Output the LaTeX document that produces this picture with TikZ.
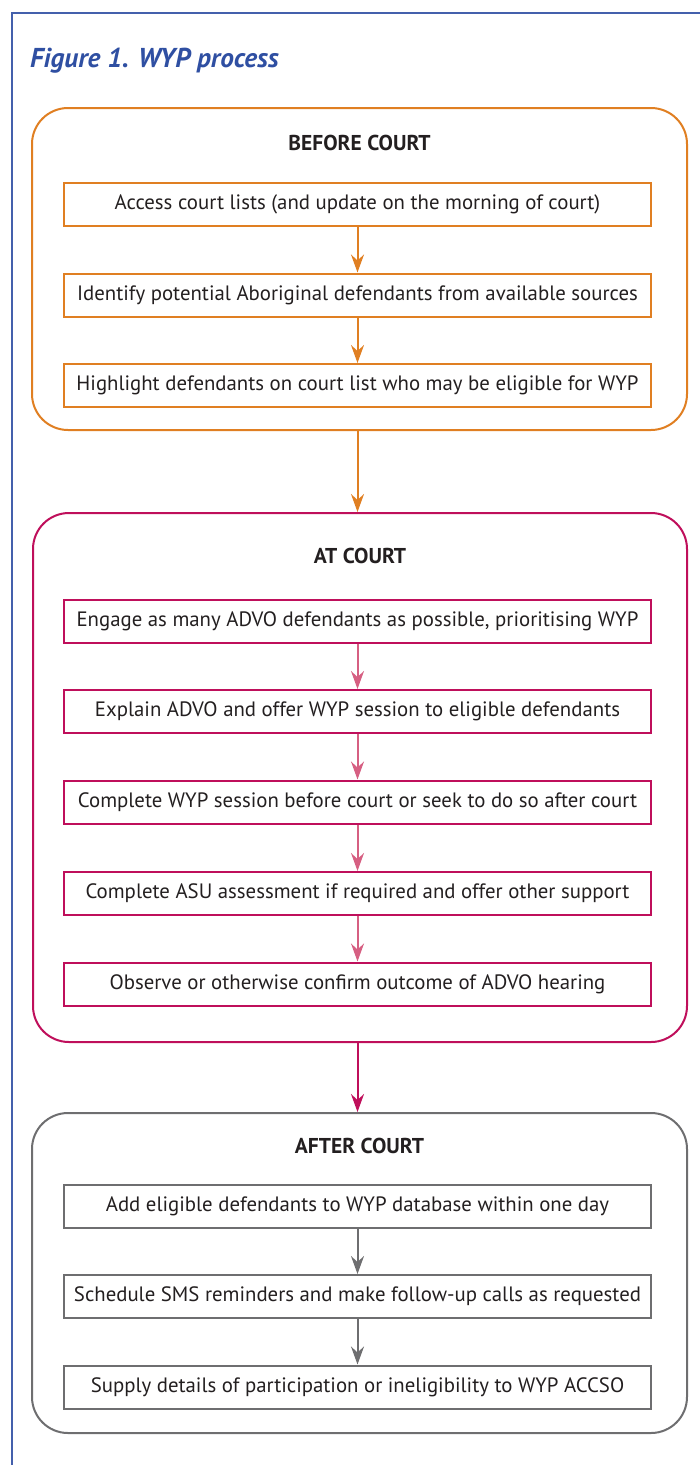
\documentclass[tikz,border=0pt]{standalone}
\usepackage{fontspec}
\setmainfont{PT Sans}
\usetikzlibrary{arrows.meta}

\definecolor{framebl}{HTML}{4460AC}
\definecolor{titlebl}{HTML}{2F4FA2}
\definecolor{beforeor}{HTML}{E07F22}
\definecolor{atcr}{HTML}{BF0F5B}
\definecolor{atpk}{HTML}{D65F82}
\definecolor{aftergr}{HTML}{6E6E70}
\definecolor{bodytx}{HTML}{231F20}

\tikzset{
  stage/.style={draw=#1, line width=2pt, rounded corners=36pt, inner sep=0pt},
  taskbox/.style={draw=#1, line width=2pt, minimum width=587pt, minimum height=43pt,
    inner sep=0pt, text=bodytx, font=\fontsize{20.8}{24}\selectfont},
  stagehd/.style={text=bodytx, font=\fontsize{21.5}{25}\selectfont\bfseries},
  flow/.style={draw=#1, line width=2pt, -{Stealth[length=18pt,width=13pt,inset=6pt,fill=#1]}},
}

\begin{document}
\begin{tikzpicture}[x=1pt, y=-1pt]
  \useasboundingbox (0,0) rectangle (700,1465);

  % frame and title
  \draw[framebl, line width=2pt] (11.5,1465) -- (11.5,12.5) -- (700,12.5);
  \node[anchor=base west, text=titlebl, font=\fontsize{27.3}{32}\selectfont\bfseries\itshape, inner sep=0pt]
    (title) at (30,67) {Figure 1. WYP process};

  % before court
  \node[stage=beforeor, minimum width=655pt, minimum height=322pt] (before) at (359.5,269) {};
  \node[stagehd] (beforehd) at (359.5,143) {BEFORE COURT};
  \node[taskbox=beforeor] (b1) at (357.5,204.5) {Access court lists (and update on the morning of court)};
  \node[taskbox=beforeor] (b2) at (357.5,295) {Identify potential Aboriginal defendants from available sources};
  \node[taskbox=beforeor] (b3) at (357.5,385.5) {Highlight defendants on court list who may be eligible for WYP};
  \draw[flow=beforeor] (b1) -- (b2);
  \draw[flow=beforeor] (b2) -- (b3);

  % at court
  \node[stage=atcr, minimum width=654pt, minimum height=529pt] (at) at (360,777.5) {};
  \node[stagehd] (athd) at (360,556) {AT COURT};
  \node[taskbox=atcr] (a1) at (357.5,621) {Engage as many ADVO defendants as possible, prioritising WYP};
  \node[taskbox=atcr] (a2) at (357.5,711.5) {Explain ADVO and offer WYP session to eligible defendants};
  \node[taskbox=atcr] (a3) at (357.5,802) {Complete WYP session before court or seek to do so after court};
  \node[taskbox=atcr] (a4) at (357.5,893.5) {Complete ASU assessment if required and offer other support};
  \node[taskbox=atcr] (a5) at (357.5,984) {Observe or otherwise confirm outcome of ADVO hearing};
  \foreach \u/\v in {a1/a2, a2/a3, a3/a4, a4/a5}
    \draw[flow=atpk] (\u) -- (\v);

  % after court
  \node[stage=aftergr, minimum width=655pt, minimum height=320pt] (after) at (359.5,1273) {};
  \node[stagehd] (afterhd) at (359.5,1146) {AFTER COURT};
  \node[taskbox=aftergr] (c1) at (357.5,1206) {Add eligible defendants to WYP database within one day};
  \node[taskbox=aftergr] (c2) at (357.5,1296.5) {Schedule SMS reminders and make follow-up calls as requested};
  \node[taskbox=aftergr] (c3) at (357.5,1387) {Supply details of participation or ineligibility to WYP ACCSO};
  \draw[flow=aftergr] (c1) -- (c2);
  \draw[flow=aftergr] (c2) -- (c3);

  % between stages
  \draw[flow=beforeor] (b3 |- before.south) -- (b3 |- at.north);
  \draw[flow=atcr] (b3 |- at.south) -- (b3 |- after.north);
\end{tikzpicture}
\end{document}
